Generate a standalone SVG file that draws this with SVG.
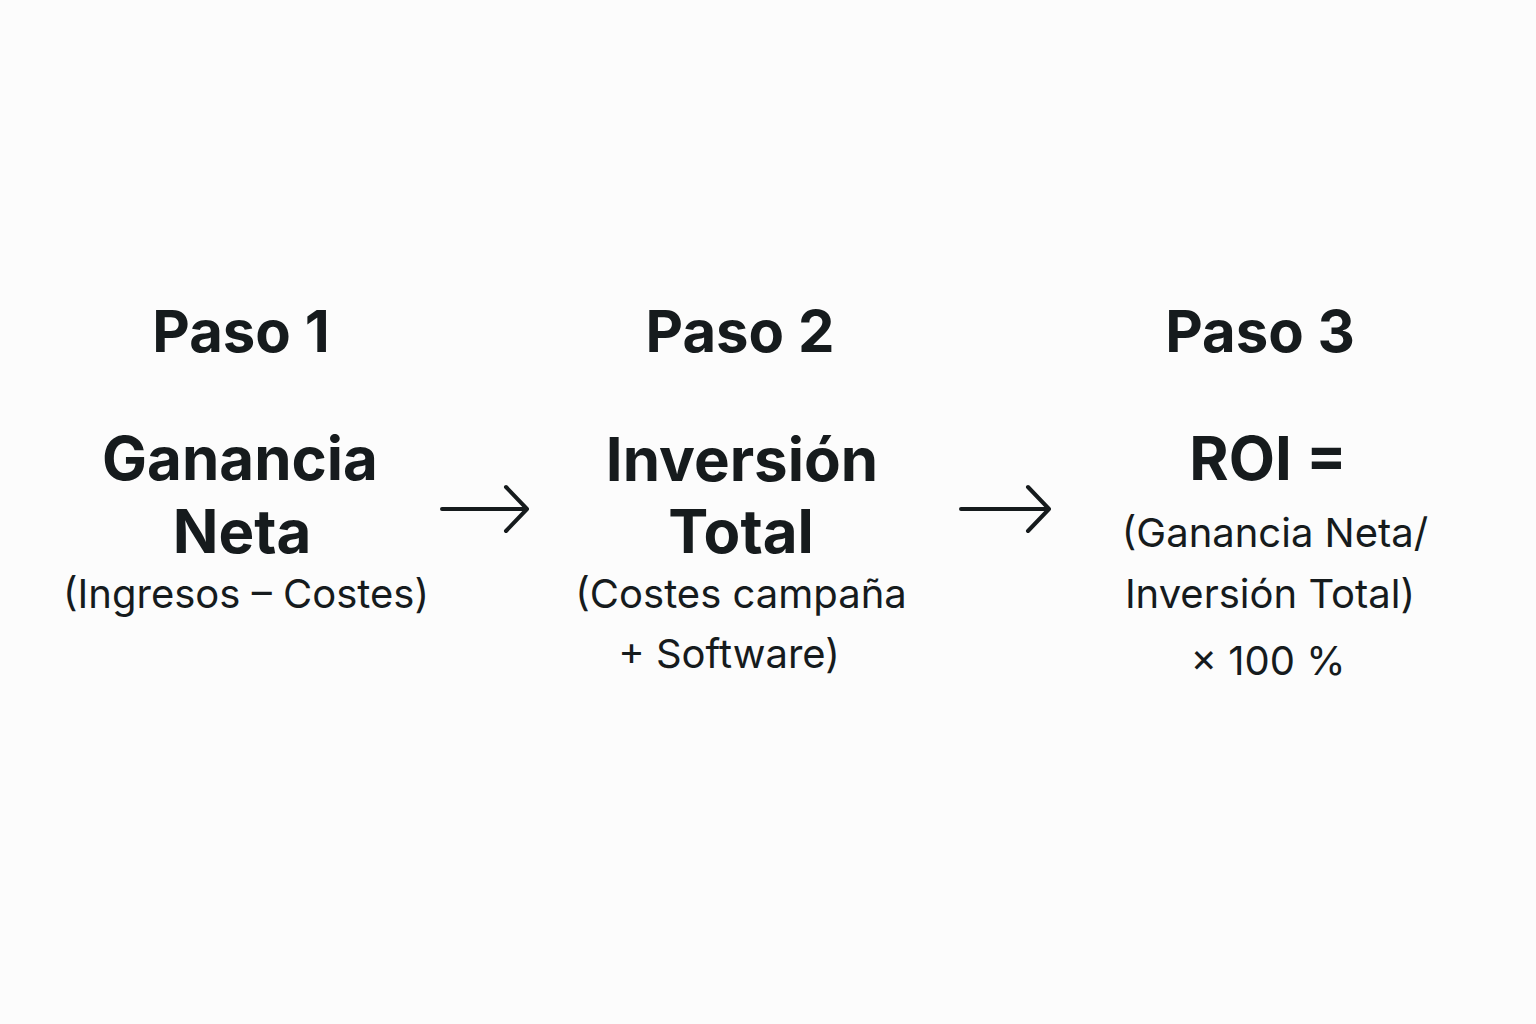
<svg xmlns="http://www.w3.org/2000/svg" width="1536" height="1024" viewBox="0 0 1536 1024">
<style>
text{font-family:Inter,"Liberation Sans",sans-serif;fill:#161b1d;text-anchor:middle}
.h{font-size:58px;font-weight:700}
.t{font-size:60px;font-weight:700}
.s{font-size:40px;font-weight:400}
.a{stroke:#161b1d;stroke-width:4;fill:none;stroke-linecap:round;stroke-linejoin:round}
</style>
<rect width="1536" height="1024" fill="#fcfcfc"/>
<g id="step1">
<text class="h" x="241" y="352">Paso 1</text>
<text class="t" x="240" y="480">Ganancia</text>
<text class="t" x="242" y="553">Neta</text>
<text class="s" x="246" y="608">(Ingresos – Costes)</text>
</g>
<g id="step2">
<text class="h" x="740" y="352">Paso 2</text>
<text class="t" x="742" y="481">Inversión</text>
<text class="t" x="741" y="553">Total</text>
<text class="s" x="741" y="608">(Costes campaña</text>
<text class="s" x="729" y="668">+ Software)</text>
</g>
<g id="step3">
<text class="h" x="1260" y="352">Paso 3</text>
<text class="t" x="1268" y="480">ROI =</text>
<text class="s" x="1275" y="547">(Ganancia Neta/</text>
<text class="s" x="1270" y="608">Inversión Total)</text>
<text class="s" x="1268" y="675">× 100 %</text>
</g>
<g id="connectors">
<path class="a" d="M442 509H526M506 487L527 509L506 531"/>
<path class="a" d="M961 509H1048M1028 487L1049 509L1028 531"/>
</g>
</svg>
